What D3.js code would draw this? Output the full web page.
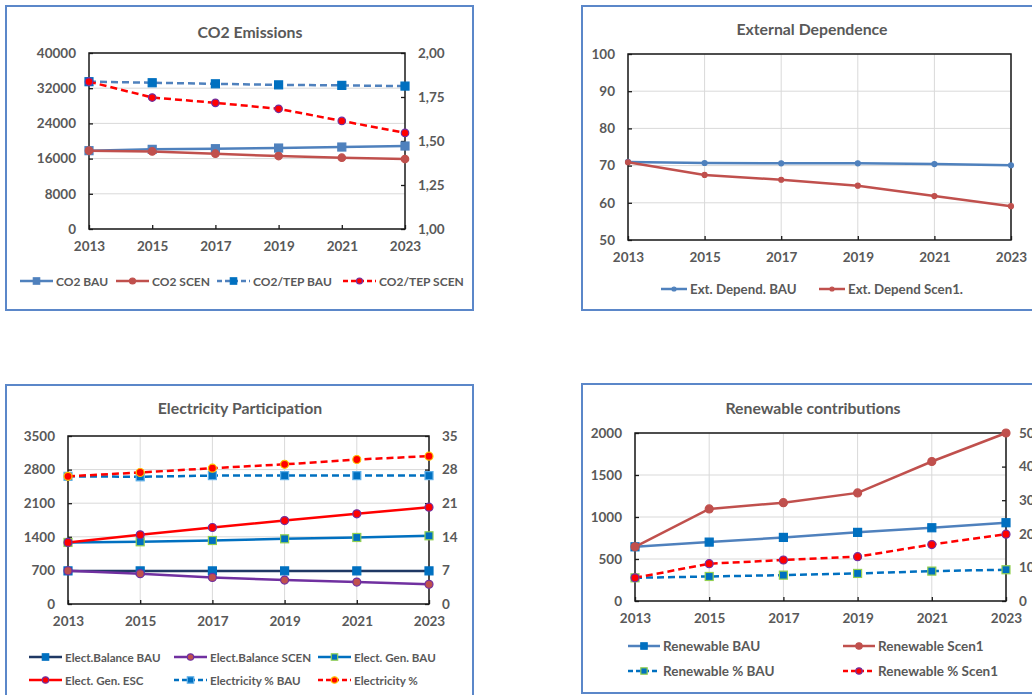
<!DOCTYPE html>
<html>
<head>
<meta charset="utf-8">
<script src="https://cdn.jsdelivr.net/npm/d3@7"></script>
<style>
  html, body { margin: 0; padding: 0; background: #fff; }
  svg { display: block; }
  text { font-family: Lato, "Open Sans", sans-serif; font-weight: 700; fill: #595959; }
</style>
</head>
<body>
<svg id="chart" width="1032" height="695"></svg>
<script>
// ---- data ----
const years = [2013, 2015, 2017, 2019, 2021, 2023];

const co2Bau = [17800, 18100, 18250, 18400, 18630, 18860];
const co2Scen = [17800, 17640, 17110, 16580, 16200, 15900];
const co2TepBau = [1.837, 1.831, 1.825, 1.819, 1.816, 1.812];
const co2TepScen = [1.837, 1.747, 1.717, 1.683, 1.614, 1.546];
const co2LeftTicks = [0, 8000, 16000, 24000, 32000, 40000];
const co2RightTicks = [1.00, 1.25, 1.50, 1.75, 2.00];

const extDepBau = [71.0, 70.7, 70.6, 70.6, 70.4, 70.1];
const extDepScen = [70.9, 67.5, 66.2, 64.6, 61.8, 59.1];
const extTicks = [50, 60, 70, 80, 90, 100];

const elecBalBau = [690, 690, 690, 690, 690, 690];
const elecBalScen = [693, 631, 554, 499, 457, 409];
const elecGenBau = [1282, 1296, 1323, 1358, 1386, 1421];
const elecGenEsc = [1282, 1441, 1594, 1739, 1878, 2017];
const elecPctBau = [26.6, 26.5, 26.75, 26.75, 26.75, 26.75];
const elecPctScen = [26.6, 27.4, 28.3, 29.1, 30.1, 30.8];
const elecLeftTicks = [0, 700, 1400, 2100, 2800, 3500];
const elecRightTicks = [0, 7, 14, 21, 28, 35];

const renBau = [645, 701, 757, 817, 872, 932];
const renScen = [645, 1096, 1171, 1287, 1661, 2000];
const renPctBau = [6.9, 7.3, 7.7, 8.2, 8.9, 9.3];
const renPctScen = [6.9, 11.1, 12.2, 13.2, 16.8, 19.9];
const renLeftTicks = [0, 500, 1000, 1500, 2000];
const renRightTicks = [0, 10, 20, 30, 40, 50];

// ---- palette ----
const C = {
  blue: "#4f81bd", red: "#c0504d", vivid: "#0070c0", bright: "#ff0000",
  navy: "#1f3864", purple: "#7030a0", green: "#92d050", orange: "#ffc000",
  frame: "#5b87c9", grid: "#d9d9d9", axis: "#1a1a1a"
};

const svg = d3.select("#chart");
const fmtComma = d3.format(".2f");

function drawPanel(p) {
  const g = svg.append("g");
  // outer frame
  g.append("rect")
    .attr("x", p.frame[0]).attr("y", p.frame[1])
    .attr("width", p.frame[2]).attr("height", p.frame[3])
    .attr("fill", "#fff").attr("stroke", C.frame).attr("stroke-width", 2);

  g.append("text").attr("x", p.titleX).attr("y", p.titleY)
    .attr("text-anchor", "middle").attr("dominant-baseline", "central")
    .style("font-size", "15.8px").text(p.title);

  const [L, T, R, B] = p.plot;
  const x = d3.scaleLinear().domain([years[0], years[years.length - 1]]).range([L, R]);
  const yL = d3.scaleLinear().domain(d3.extent(p.leftTicks)).range([B, T]);
  const yR = p.rightTicks ? d3.scaleLinear().domain(d3.extent(p.rightTicks)).range([B, T]) : null;

  // gridlines
  const grid = g.append("g").attr("stroke", C.grid).attr("stroke-width", 1);
  p.leftTicks.forEach(v => {
    grid.append("line").attr("x1", L).attr("x2", R).attr("y1", yL(v)).attr("y2", yL(v));
  });
  if (p.vGrid) {
    years.forEach(v => {
      grid.append("line").attr("x1", x(v)).attr("x2", x(v)).attr("y1", T).attr("y2", B);
    });
  }

  // axes
  const axL = d3.axisLeft(yL).tickValues(p.leftTicks).tickSizeInner(-4).tickSizeOuter(0)
    .tickPadding(13).tickFormat(d3.format("d"));
  const gL = g.append("g").attr("transform", `translate(${L},0)`).call(axL);
  const axB = d3.axisBottom(x).tickValues(years).tickSizeInner(-4).tickSizeOuter(0)
    .tickPadding(12).tickFormat(d3.format("d"));
  const gB = g.append("g").attr("transform", `translate(0,${B})`).call(axB);
  let gR;
  if (yR) {
    const axR = d3.axisRight(yR).tickValues(p.rightTicks).tickSizeInner(-4).tickSizeOuter(0)
      .tickPadding(13).tickFormat(p.rightFormat);
    gR = g.append("g").attr("transform", `translate(${R},0)`).call(axR);
  }
  [gL, gB, gR].filter(Boolean).forEach(a => {
    a.selectAll("path").remove();
    a.selectAll("line").attr("stroke", C.axis).attr("stroke-width", 1.3);
    a.selectAll("text").style("font-size", "13.5px").style("fill", "#595959")
      .attr("font-family", null);
  });
  // plot border
  g.append("rect").attr("x", L).attr("y", T).attr("width", R - L).attr("height", B - T)
    .attr("fill", "none").attr("stroke", C.axis).attr("stroke-width", 1.5);

  // series
  p.series.forEach(s => {
    const y = s.axis === "right" ? yR : yL;
    const line = d3.line().x((d, i) => x(years[i])).y(d => y(d));
    const sg = g.append("g");
    sg.append("path").datum(s.values).attr("d", line).attr("fill", "none")
      .attr("stroke", s.color).attr("stroke-width", s.width || 2.5)
      .attr("stroke-dasharray", s.dash ? "7,4" : null);
    s.values.forEach((v, i) => marker(sg, s, x(years[i]), y(v)));
  });

  // legend
  p.legend.forEach((li, k) => {
    const s = p.series[k];
    const lg = g.append("g");
    lg.append("line").attr("x1", li[0]).attr("x2", li[0] + li[2]).attr("y1", li[1]).attr("y2", li[1])
      .attr("stroke", s.color).attr("stroke-width", s.width || 2.5)
      .attr("stroke-dasharray", s.dash ? "5,3" : null);
    marker(lg, s, li[0] + li[2] / 2, li[1], 0.8);
    lg.append("text").attr("x", li[0] + li[2] + 3).attr("y", li[1])
      .attr("dominant-baseline", "central").style("font-size", p.legendFont).text(s.name);
  });
}

function marker(sel, s, cx, cy, k = 1) {
  const sz = (s.size || 7) * k;
  if (s.shape === "square") {
    sel.append("rect").attr("x", cx - sz / 2).attr("y", cy - sz / 2)
      .attr("width", sz).attr("height", sz)
      .attr("fill", s.fill).attr("stroke", s.edge || s.fill).attr("stroke-width", 1.2);
  } else {
    sel.append("circle").attr("cx", cx).attr("cy", cy).attr("r", sz / 2)
      .attr("fill", s.fill).attr("stroke", s.edge || s.fill).attr("stroke-width", 1.2);
  }
}

// ---- CO2 Emissions ----
drawPanel({
  frame: [6, 6, 467, 304], title: "CO2 Emissions", titleX: 250, titleY: 31,
  plot: [89, 53, 405, 229], leftTicks: co2LeftTicks, rightTicks: co2RightTicks,
  rightFormat: v => fmtComma(v).replace(".", ","), vGrid: false, legendFont: "12px",
  series: [
    { name: "CO2 BAU", values: co2Bau, color: C.blue, shape: "square", fill: C.blue, size: 8 },
    { name: "CO2 SCEN", values: co2Scen, color: C.red, shape: "circle", fill: C.red, size: 7.5 },
    { name: "CO2/TEP  BAU", values: co2TepBau, axis: "right", color: C.blue, dash: true, shape: "square", fill: C.vivid, size: 8 },
    { name: "CO2/TEP SCEN", values: co2TepScen, axis: "right", color: C.bright, dash: true, shape: "circle", fill: C.bright, edge: C.purple, size: 7.5 }
  ],
  legend: [[20, 281, 33], [116, 281, 33], [217, 281, 33], [343, 281, 33]]
});

// ---- External Dependence ----
drawPanel({
  frame: [582, 6, 470, 304], title: "External Dependence", titleX: 812, titleY: 28,
  plot: [628, 54, 1011, 240], leftTicks: extTicks, vGrid: true, legendFont: "13.3px",
  series: [
    { name: "Ext. Depend. BAU", values: extDepBau, color: C.blue, shape: "circle", fill: C.blue, size: 5 },
    { name: "Ext. Depend Scen1.", values: extDepScen, color: C.red, shape: "circle", fill: C.red, size: 5 }
  ],
  legend: [[661, 289, 26], [819, 289, 26]]
});

// ---- Electricity Participation ----
drawPanel({
  frame: [6, 385, 467, 320], title: "Electricity Participation", titleX: 240, titleY: 407,
  plot: [68, 436, 429, 604], leftTicks: elecLeftTicks, rightTicks: elecRightTicks,
  rightFormat: d3.format("d"), vGrid: true, legendFont: "11.6px",
  series: [
    { name: "Elect.Balance BAU", values: elecBalBau, color: C.navy, shape: "square", fill: C.vivid, size: 8 },
    { name: "Elect.Balance SCEN", values: elecBalScen, color: C.purple, shape: "circle", fill: C.red, edge: C.purple, size: 8 },
    { name: "Elect. Gen. BAU", values: elecGenBau, color: C.vivid, shape: "square", fill: C.vivid, edge: C.green, size: 8 },
    { name: "Elect. Gen. ESC", values: elecGenEsc, color: C.bright, shape: "circle", fill: C.bright, edge: C.purple, size: 8 },
    { name: "Electricity % BAU", values: elecPctBau, axis: "right", color: C.vivid, dash: true, shape: "square", fill: C.vivid, edge: "#5fb0e8", size: 8 },
    { name: "Electricity %", values: elecPctScen, axis: "right", color: C.bright, dash: true, shape: "circle", fill: C.bright, edge: C.orange, size: 8 }
  ],
  legend: [[29, 657, 33], [174, 657, 33], [318, 657, 33], [29, 680, 33], [174, 680, 33], [318, 680, 33]]
});

// ---- Renewable contributions ----
drawPanel({
  frame: [582, 384, 470, 309], title: "Renewable contributions", titleX: 813, titleY: 407,
  plot: [635, 433, 1006, 601], leftTicks: renLeftTicks, rightTicks: renRightTicks,
  rightFormat: d3.format("d"), vGrid: true, legendFont: "13.5px",
  series: [
    { name: "Renewable BAU", values: renBau, color: C.blue, shape: "square", fill: C.vivid, size: 8 },
    { name: "Renewable Scen1", values: renScen, color: C.red, shape: "circle", fill: C.red, size: 8 },
    { name: "Renewable % BAU", values: renPctBau, axis: "right", color: C.vivid, dash: true, shape: "square", fill: C.vivid, edge: C.green, size: 8 },
    { name: "Renewable % Scen1", values: renPctScen, axis: "right", color: C.bright, dash: true, shape: "circle", fill: C.bright, edge: C.purple, size: 8 }
  ],
  legend: [[628, 646, 32], [843, 646, 32], [628, 671, 32], [843, 671, 32]]
});
</script>
</body>
</html>
